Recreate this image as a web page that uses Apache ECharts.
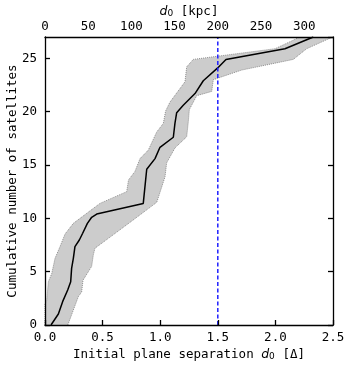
<!DOCTYPE html>
<html>
<head>
<meta charset="utf-8">
<script src="https://cdn.jsdelivr.net/npm/echarts@6/dist/echarts.min.js"></script>
<style>html,body{margin:0;padding:0;background:#fff}#c{width:349px;height:365px}</style>
</head>
<body>
<div id="c"></div>
<script>
// Median cumulative curve: x = d0 [Delta], y = cumulative count
const medianX = [0.052,0.116,0.153,0.197,0.223,0.231,0.246,0.26,0.298,0.327,0.368,0.405,0.449,0.853,0.883,0.955,0.998,1.114,1.128,1.143,1.2,1.302,1.374,1.499,1.571,2.083,2.329];
const medianY = [0,1.03,2.19,3.28,4.06,5.31,6.25,7.34,7.97,8.6,9.53,10.1,10.4,11.4,14.6,15.6,16.66,17.6,18.9,19.9,20.6,21.7,22.9,24.1,24.9,25.9,27];
// Lower (left) envelope
const lowerX = [0,0,0.015,0.029,0.058,0.087,0.13,0.174,0.246,0.362,0.477,0.709,0.725,0.781,0.825,0.897,0.97,1.027,1.047,1.085,1.215,1.23,1.287,1.997,2.155,2.21];
const lowerY = [0,2.0,2.3,4.06,4.8,6.25,7.34,8.53,9.53,10.47,11.4,12.5,13.6,14.4,15.6,16.4,18.1,18.9,20.06,20.9,22.8,24.2,24.9,25.9,26.7,27];
// Upper (right) envelope
const upperX = [0.198,0.246,0.289,0.318,0.33,0.405,0.42,0.434,0.56,0.76,0.97,1.042,1.056,1.128,1.23,1.244,1.253,1.317,1.447,1.461,1.707,2.155,2.271,2.497];
const upperY = [0,1.4,2.65,3.1,4.2,5.5,6.6,7.2,8.2,9.8,11.5,13.9,15.2,16.6,17.65,19.06,20.2,21.5,21.9,23.0,23.9,24.9,25.9,27];
// Reference plane separation
const planeX = 1.5;
const kpcPerDelta = 200 / 1.5;
const xTicks = [0, 0.5, 1.0, 1.5, 2.0, 2.5];
const kpcTicks = [0, 50, 100, 150, 200, 250, 300];
const yTicks = [0, 5, 10, 15, 20, 25];

const zip = (xs, ys) => xs.map((x, i) => [x, ys[i]]);
const medianData = zip(medianX, medianY);
const lowerData = zip(lowerX, lowerY);
const upperData = zip(upperX, upperY);
const bandPoly = lowerData.concat(upperData.slice().reverse());

const mono = 'DejaVu Sans Mono';
const axisCol = '#000';
const fs = 12.5;
const chart = echarts.init(document.getElementById('c'));
const richTitle = {
  t: {fontFamily: mono, fontSize: fs, color: '#000'},
  i: {fontFamily: 'DejaVu Sans', fontStyle: 'italic', fontSize: fs, color: '#000'},
  s: {fontFamily: 'DejaVu Sans', fontSize: 9, color: '#000', verticalAlign: 'bottom', padding: [4, 0, 0, 0]}
};
chart.setOption({
  animation: false,
  backgroundColor: '#fff',
  grid: {left: 45, right: 16, top: 37, bottom: 40, containLabel: false, outerBoundsMode: 'none'},
  xAxis: [{
    type: 'value', min: 0, max: 2.5, interval: 0.5, position: 'bottom', z: 10,
    axisLine: {show: true, onZero: false, lineStyle: {color: axisCol, width: 1.3}},
    axisTick: {show: true, inside: true, length: 5, lineStyle: {color: axisCol, width: 1.3}},
    splitLine: {show: false},
    axisLabel: {color: '#000', fontFamily: mono, fontSize: fs, margin: 6, formatter: v => v.toFixed(1)},
    name: '{t|Initial plane separation }{i|d}{s|0}{t| [Δ]}',
    nameLocation: 'middle', nameGap: 23, nameMoveOverlap: false,
    nameTextStyle: {rich: richTitle}
  }, {
    type: 'value', min: 0, max: 2.5 * kpcPerDelta, interval: 50, position: 'top', z: 10,
    axisLine: {show: true, onZero: false, lineStyle: {color: axisCol, width: 1.3}},
    axisTick: {show: false},
    splitLine: {show: false},
    axisLabel: {color: '#000', fontFamily: mono, fontSize: fs, margin: 4, showMaxLabel: false,
      formatter: v => (kpcTicks.indexOf(Math.round(v)) >= 0 && Math.abs(v - Math.round(v)) < 1e-6) ? String(Math.round(v)) : ''},
    name: '{i|d}{s|0}{t| [kpc]}',
    nameLocation: 'middle', nameGap: 19, nameMoveOverlap: false,
    nameTextStyle: {rich: richTitle}
  }],
  yAxis: [{
    type: 'value', min: 0, max: 27, interval: 5, position: 'left', z: 10,
    axisLine: {show: true, onZero: false, lineStyle: {color: axisCol, width: 1.3}},
    axisTick: {show: true, inside: true, length: 5, lineStyle: {color: axisCol, width: 1.3}},
    splitLine: {show: false},
    axisLabel: {color: '#000', fontFamily: mono, fontSize: fs, margin: 8, showMaxLabel: false,
      formatter: v => yTicks.indexOf(v) >= 0 ? String(v) : ''},
    name: 'Cumulative number of satellites',
    nameLocation: 'middle', nameGap: 26, nameMoveOverlap: false,
    nameTextStyle: {fontFamily: mono, fontSize: fs, color: '#000'}
  }, {
    type: 'value', min: 0, max: 27, interval: 5, position: 'right', z: 10,
    axisLine: {show: true, onZero: false, lineStyle: {color: axisCol, width: 1.3}},
    axisTick: {show: true, inside: true, length: 5, lineStyle: {color: axisCol, width: 1.3}},
    splitLine: {show: false},
    axisLabel: {show: false}
  }],
  series: [{
    type: 'custom', xAxisIndex: 0, yAxisIndex: 0, z: 1, silent: true,
    data: [[0, 0]],
    renderItem: (params, api) => ({
      type: 'polygon',
      shape: {points: bandPoly.map(p => api.coord(p))},
      style: {fill: '#cccccc', stroke: null}
    })
  }, {
    type: 'line', data: lowerData, showSymbol: false, symbol: 'none', z: 2,
    lineStyle: {color: '#7a7a7a', width: 0.8, type: [1, 1]}
  }, {
    type: 'line', data: upperData, showSymbol: false, symbol: 'none', z: 2,
    lineStyle: {color: '#7a7a7a', width: 0.8, type: [1, 1]}
  }, {
    type: 'line', data: medianData, showSymbol: false, symbol: 'none', z: 3,
    lineStyle: {color: '#000', width: 1.5}
  }, {
    type: 'line', data: [[planeX, 0], [planeX, 27]], showSymbol: false, symbol: 'none', z: 4,
    lineStyle: {color: '#1f1fff', width: 1.5, type: [4, 2.5]}
  }]
});
</script>
</body>
</html>
